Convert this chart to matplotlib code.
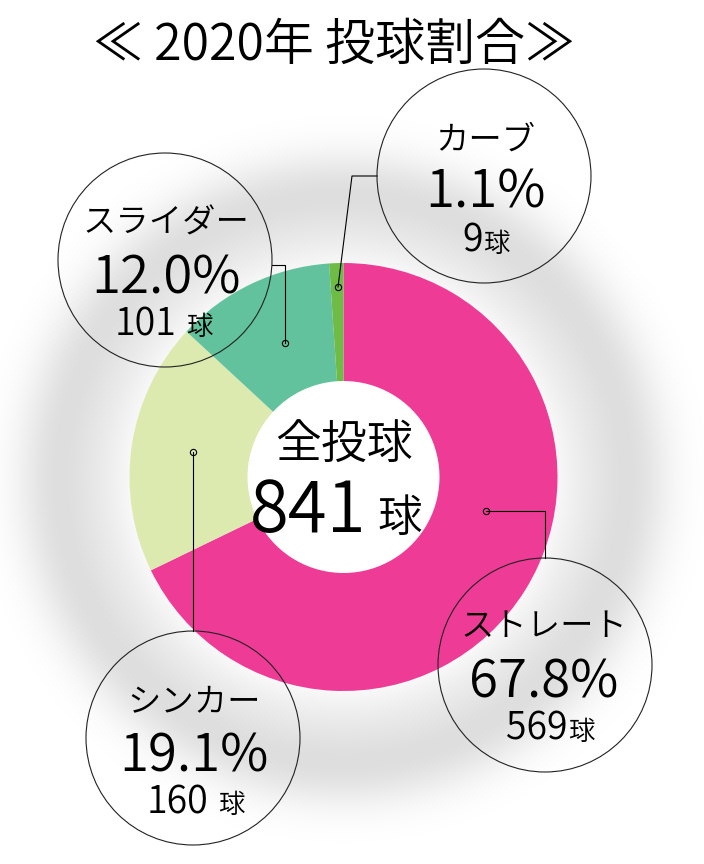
import numpy as np
import matplotlib
matplotlib.use("Agg")
import matplotlib.pyplot as plt
from matplotlib.patches import Circle

plt.rcParams['font.family'] = ['Noto Sans CJK JP', 'DejaVu Sans']
plt.rcParams['font.weight'] = 350

# ---- data ----
title = "≪ 2020年 投球割合≫"
categories = ["ストレート", "シンカー", "スライダー", "カーブ"]
counts = [569, 160, 101, 9]
percents = ["67.8%", "19.1%", "12.0%", "1.1%"]
count_labels = ["569", "160", "101", "9"]
count_gaps = [0, 4, 4, 0]
total_label = "841"
center_title = "全投球"
colors = ["#EE3C96", "#DCE9AF", "#62C29E", "#6EBB45"]

W, H = 704, 864
def Y(y):
    return H - y

fig = plt.figure(figsize=(W / 100, H / 100), dpi=100)
ax = fig.add_axes([0, 0, 1, 1])

cx, cy = 343.5, 477
R_out, R_in = 214, 96

# soft ring shadow behind the donut
xs = np.arange(W) + 0.5
ys = np.arange(H) + 0.5
XX, YY = np.meshgrid(xs, ys)
rr = np.hypot(XX - cx, YY - (cy + 2))
alpha = 0.13 * np.exp(-((rr - 285) / 42.0) ** 2) + 0.04 * np.exp(-((rr - 235) / 30.0) ** 2)
img = np.zeros((H, W, 4))
img[..., 3] = alpha
ax.imshow(img, extent=(0, W, 0, H), origin='upper', zorder=0, interpolation='bilinear')

wedges, _ = ax.pie(counts, colors=colors, startangle=90, counterclock=False,
                   radius=R_out, center=(cx, Y(cy)),
                   wedgeprops=dict(width=R_out - R_in, linewidth=0))
for w in wedges:
    w.set_zorder(1)

ax.set_xlim(0, W)
ax.set_ylim(0, H)
ax.set_aspect('equal')
ax.axis('off')

# title
ax.text(334, Y(60), title, ha='center', va='baseline', fontsize=36, color='black')

# center text
ax.text(344, Y(459), center_title, ha='center', va='baseline', fontsize=33)
ax.text(366, Y(532), total_label, ha='right', va='baseline', fontsize=51)
ax.text(377, Y(532), "球", ha='left', va='baseline', fontsize=32)

# callouts: circle center, name baseline, pct baseline, count baseline, count anchor x
callouts = [
    dict(c=(545, 665), name_y=636, pct_y=698, cnt_y=740, anchor=568, tx=544),
    dict(c=(193, 738), name_y=711, pct_y=772, cnt_y=813, anchor=208, tx=194),
    dict(c=(165, 260), name_y=233, pct_y=293, cnt_y=335, anchor=176, tx=166),
    dict(c=(484, 176), name_y=150, pct_y=208, cnt_y=252, anchor=483, tx=485),
]
# leader lines (pixel coords): from dot to circle edge
leaders = [
    [(486, 511), (545, 511), (545, 558)],
    [(193, 452), (193, 631)],
    [(285, 343), (285, 265), (272, 265)],
    [(338, 287), (352, 176), (377, 176)],
]

for i, co in enumerate(callouts):
    ccx, ccy = co['c']
    ax.add_patch(Circle((ccx, Y(ccy)), 107, fill=False, edgecolor='#222222',
                        linewidth=0.8, zorder=3))
    ax.text(co['tx'], Y(co['name_y']), categories[i], ha='center', va='baseline',
            fontsize=24, zorder=4)
    ax.text(co['tx'], Y(co['pct_y']), percents[i], ha='center', va='baseline',
            fontsize=38, zorder=4)
    ax.text(co['anchor'], Y(co['cnt_y']), count_labels[i], ha='right', va='baseline',
            fontsize=27, zorder=4)
    ax.text(co['anchor'] + count_gaps[i] * 2.5, Y(co['cnt_y']), "球", ha='left',
            va='baseline', fontsize=19, zorder=4)
    pts = leaders[i]
    ax.plot([p[0] for p in pts], [Y(p[1]) for p in pts], color='black',
            linewidth=0.8, zorder=3)
    ax.plot([pts[0][0]], [Y(pts[0][1])], marker='o', markersize=4.5,
            markerfacecolor='none', markeredgecolor='black', markeredgewidth=0.8,
            zorder=4)

fig.savefig("out.png", dpi=100)
